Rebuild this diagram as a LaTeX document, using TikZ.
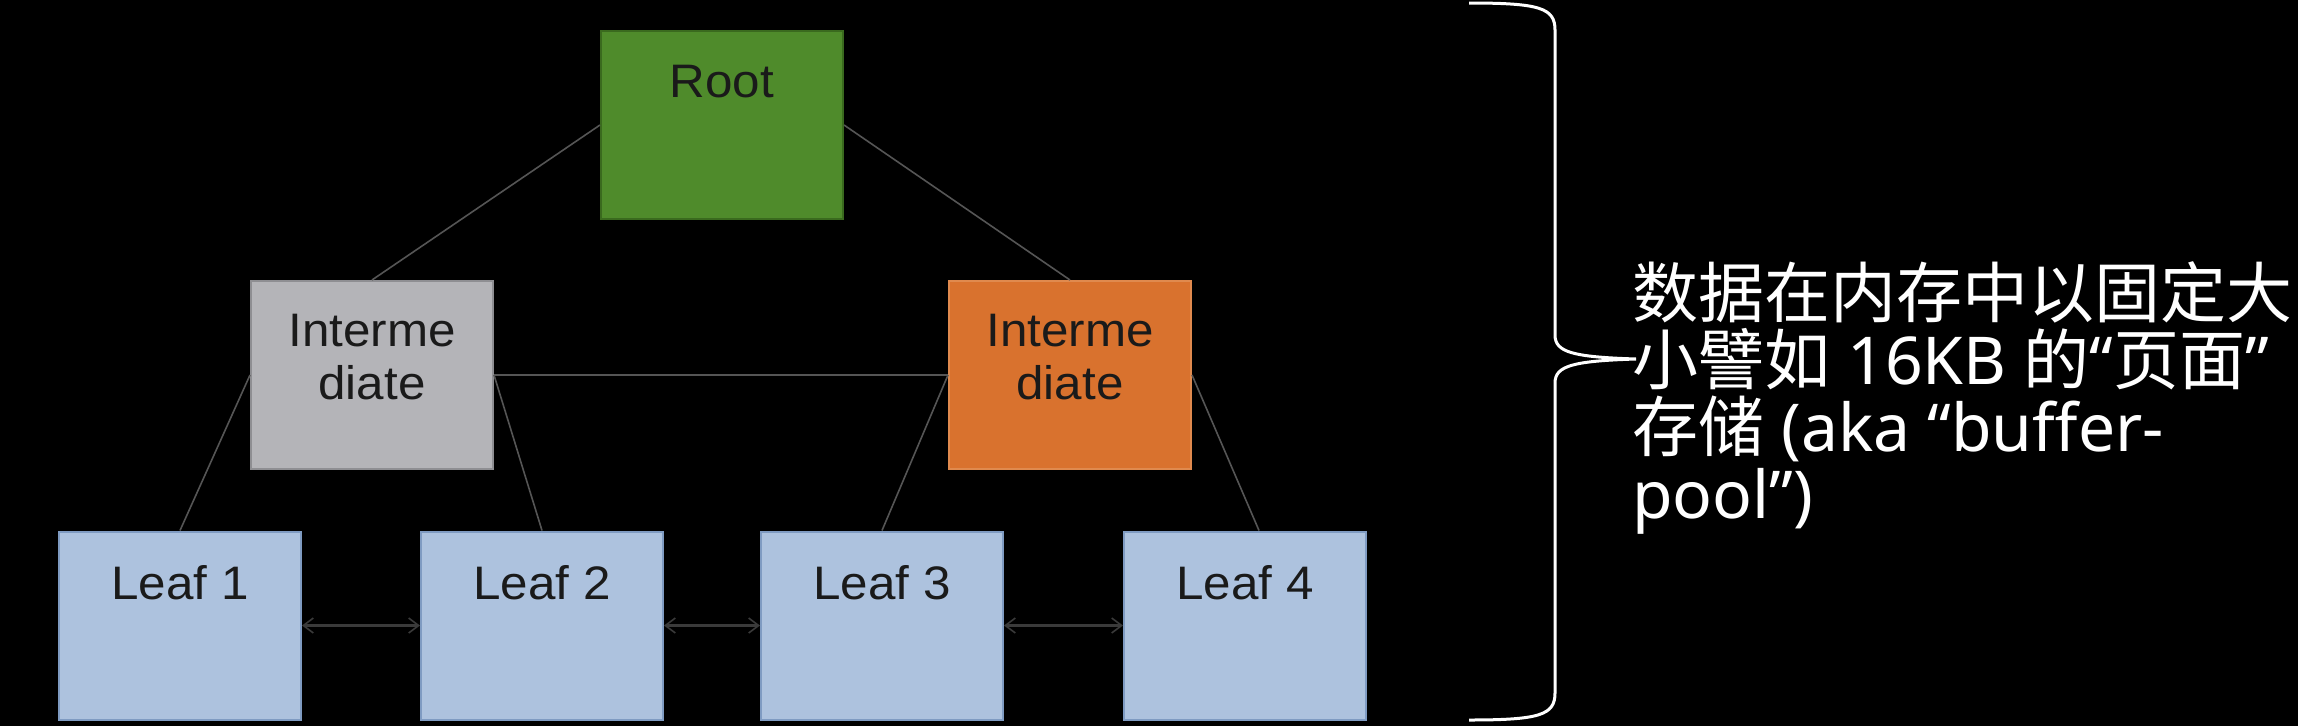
\documentclass[tikz,border=0pt]{standalone}
\usepackage{fontspec}
\setmainfont{Liberation Sans}
\newfontfamily\boxfont[FakeStretch=1.05]{Liberation Sans}
\newfontfamily\cjk{Noto Sans CJK SC}
\newfontfamily\lat{Noto Sans}
\usetikzlibrary{arrows.meta,calc}
\definecolor{rootfill}{HTML}{4F8B2B}
\definecolor{rootdraw}{HTML}{3A6A1E}
\definecolor{grayfill}{HTML}{B4B4B8}
\definecolor{graydraw}{HTML}{8E8E92}
\definecolor{orangefill}{HTML}{D9722E}
\definecolor{orangedraw}{HTML}{E08A4E}
\definecolor{leaffill}{HTML}{ADC2DE}
\definecolor{leafdraw}{HTML}{7F9BC2}
\definecolor{edgecol}{HTML}{555555}
\definecolor{arrcol}{HTML}{3A3A3A}
\definecolor{boxtext}{HTML}{1A1A1A}
\begin{document}
\begin{tikzpicture}[x=1pt,y=-1pt,
  pagebox/.style={rectangle,minimum width=242pt,minimum height=188pt,inner sep=0pt,line width=2pt},
  rootbox/.style={pagebox,fill=rootfill,draw=rootdraw},
  midgray/.style={pagebox,fill=grayfill,draw=graydraw},
  midorange/.style={pagebox,fill=orangefill,draw=orangedraw},
  leafbox/.style={pagebox,fill=leaffill,draw=leafdraw},
  boxlabel/.style={anchor=base,inner sep=0pt,text=boxtext,font=\boxfont\fontsize{47}{53}\selectfont,align=center},
  treeedge/.style={draw=edgecol,line width=1.6pt},
  leaflink/.style={draw=arrcol,line width=3pt,{Straight Barb[length=10pt,width=15pt,line width=1.6pt]}-{Straight Barb[length=10pt,width=15pt,line width=1.6pt]}},
  bracepath/.style={draw=white,line width=3pt},
  note/.style={anchor=base west,inner sep=0pt,text=white,align=left,font=\cjk\fontsize{66}{67}\selectfont}
]
\fill[black] (0,0) rectangle (2298,726);
\useasboundingbox (0,0) rectangle (2298,726);

\node[rootbox] (root) at (722,125) {};
\node[midgray] (midl) at (372,375) {};
\node[midorange] (midr) at (1070,375) {};
\node[leafbox] (leaf1) at (180,625.5) {};
\node[leafbox] (leaf2) at (542,625.5) {};
\node[leafbox] (leaf3) at (882,625.5) {};
\node[leafbox] (leaf4) at (1245,625.5) {};

\node[boxlabel] (troot) at ($(root.north)+(0,67)$) {Root};
\node[boxlabel] (tmidl) at ($(midl.north)+(0,119)$) {Interme\\diate};
\node[boxlabel] (tmidr) at ($(midr.north)+(0,119)$) {Interme\\diate};
\node[boxlabel] (tl1) at ($(leaf1.north)+(0,69)$) {Leaf 1};
\node[boxlabel] (tl2) at ($(leaf2.north)+(0,69)$) {Leaf 2};
\node[boxlabel] (tl3) at ($(leaf3.north)+(0,69)$) {Leaf 3};
\node[boxlabel] (tl4) at ($(leaf4.north)+(0,69)$) {Leaf 4};

\coordinate (l4top) at ($(leaf4.north)+(14,0)$);
\draw[treeedge] (root.west) -- (midl.north);
\draw[treeedge] (root.east) -- (midr.north);
\draw[treeedge] (midl.west) -- (leaf1.north);
\draw[treeedge] (midl.east) -- (leaf2.north);
\draw[treeedge] (midr.west) -- (leaf3.north);
\draw[treeedge] (midr.east) -- (l4top);
\draw[treeedge] (midl.east) -- (midr.west);

\draw[leaflink] (leaf1.east) -- (leaf2.west);
\draw[leaflink] (leaf2.east) -- (leaf3.west);
\draw[leaflink] (leaf3.east) -- (leaf4.west);

\coordinate (btop) at (1469,3);
\coordinate (btip) at (1636,359);
\coordinate (bbot) at (1469,720);
\draw[bracepath] (btop) .. controls (1540,3) and (1555,8) .. (1555,30)
  -- (1555,335) .. controls (1555,352) and (1572,357) .. (btip)
  .. controls (1572,361) and (1555,366) .. (1555,383)
  -- (1555,693) .. controls (1555,715) and (1540,720) .. (bbot);

\node[note] (txt) at (1632,518) {数据在内存中以固定大\\小譬如{\lat\ 16KB }的{\lat “}页面{\lat ”}\\存储{\lat\ (aka “buffer-}\\{\lat pool”)}};
\end{tikzpicture}
\end{document}
